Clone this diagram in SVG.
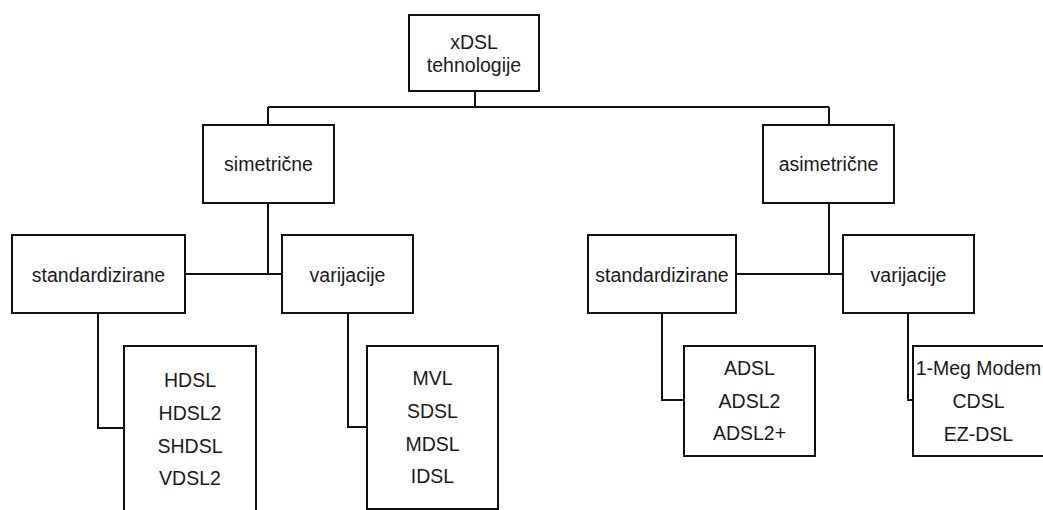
<svg xmlns="http://www.w3.org/2000/svg" width="1043" height="510" viewBox="0 0 1043 510">
<style>
.box{fill:#fff;stroke:#111;stroke-width:2}
.t{font-family:"Liberation Sans",Arial,sans-serif;font-size:19.5px;fill:#1a1a1a;text-anchor:middle}
.c{fill:none;stroke:#111;stroke-width:2}
</style>
<rect width="1043" height="510" fill="#fff"/>
<g id="connectors">
<path class="c" d="M475,91V107M268,107H829M268,107V125M829,107V125"/>
<path class="c" d="M268,203V274M185,274H282"/>
<path class="c" d="M829,203V274M736,274H843"/>
<path class="c" d="M98,313V428H124"/>
<path class="c" d="M348,313V427H367"/>
<path class="c" d="M662,313V400H684"/>
<path class="c" d="M908,313V400H913"/>
</g>
<g id="n-xdsl"><rect class="box" x="409" y="15" width="130" height="76"/><text class="t" x="474" y="49">xDSL</text><text class="t" x="474" y="72">tehnologije</text></g>
<g id="n-sim"><rect class="box" x="203" y="125" width="131" height="78"/><text class="t" x="268.5" y="171">simetrične</text></g>
<g id="n-asim"><rect class="box" x="763" y="125" width="131" height="78"/><text class="t" x="828.5" y="171">asimetrične</text></g>
<g id="n-std1"><rect class="box" x="12" y="235" width="173" height="78"/><text class="t" x="98.5" y="282">standardizirane</text></g>
<g id="n-var1"><rect class="box" x="282" y="235" width="131" height="78"/><text class="t" x="347.5" y="282">varijacije</text></g>
<g id="n-std2"><rect class="box" x="588" y="235" width="148" height="78"/><text class="t" x="662" y="282">standardizirane</text></g>
<g id="n-var2"><rect class="box" x="843" y="235" width="131" height="78"/><text class="t" x="908.5" y="282">varijacije</text></g>
<g id="n-list1"><rect class="box" x="124" y="346" width="132" height="180"/><text class="t" x="190" y="387">HDSL</text><text class="t" x="190" y="420">HDSL2</text><text class="t" x="190" y="452.5">SHDSL</text><text class="t" x="190" y="485">VDSL2</text></g>
<g id="n-list2"><rect class="box" x="367" y="346" width="131" height="163"/><text class="t" x="432.5" y="385">MVL</text><text class="t" x="432.5" y="417.5">SDSL</text><text class="t" x="432.5" y="450.5">MDSL</text><text class="t" x="432.5" y="483">IDSL</text></g>
<g id="n-list3"><rect class="box" x="684" y="346" width="131" height="110"/><text class="t" x="749.5" y="375">ADSL</text><text class="t" x="749.5" y="408">ADSL2</text><text class="t" x="749.5" y="440">ADSL2+</text></g>
<g id="n-list4"><rect class="box" x="913" y="346" width="132" height="110"/><text class="t" x="978.5" y="375">1-Meg Modem</text><text class="t" x="978.5" y="408">CDSL</text><text class="t" x="978.5" y="441">EZ-DSL</text></g>
</svg>
